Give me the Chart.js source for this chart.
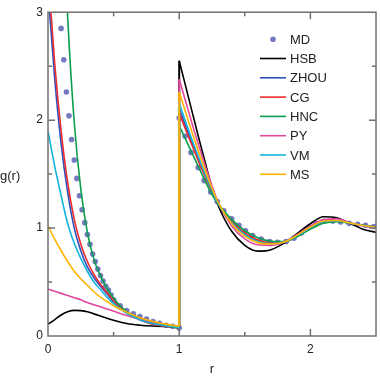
<!DOCTYPE html>
<html>
<head>
<meta charset="utf-8">
<script src="https://cdn.jsdelivr.net/npm/chart.js@4/dist/chart.umd.min.js"></script>
<style>
  html, body { margin: 0; padding: 0; background: #fff; }
</style>
</head>
<body>
<canvas id="myChart" width="380" height="376"></canvas>
<script>
// r grid: inside the core (0..1) then outside (1..2.5)
var rInner = [0, 0.05, 0.1, 0.15, 0.2, 0.25, 0.3, 0.35, 0.4, 0.45, 0.5, 0.6, 0.7, 0.8, 0.9, 1.0];
var rOuter = [1.0, 1.05, 1.1, 1.15, 1.2, 1.25, 1.3, 1.4, 1.5, 1.6, 1.7, 1.8, 1.9, 2.0, 2.1, 2.2, 2.3, 2.4, 2.5];

// g(r) for each closure: 16 inner values, then 19 outer values (first one is the contact value)
var HSB  = [0.11, 0.15, 0.195, 0.225, 0.237, 0.235, 0.225, 0.205, 0.185, 0.165, 0.145, 0.115, 0.1, 0.092, 0.088, 0.085,
            2.55, 2.31, 2.07, 1.83, 1.6, 1.37, 1.2, 0.97, 0.84, 0.786, 0.8, 0.86, 0.95, 1.04, 1.105, 1.095, 1.045, 0.99, 0.96];
var ZHOU = [3.2, 2.4, 1.78, 1.33, 1.0, 0.79, 0.64, 0.54, 0.46, 0.39, 0.32, 0.215, 0.15, 0.11, 0.09, 0.075,
            2.11, 1.94, 1.78, 1.63, 1.48, 1.34, 1.22, 1.06, 0.95, 0.885, 0.862, 0.87, 0.925, 1.0, 1.057, 1.066, 1.046, 1.025, 1.008];
var CG   = [3.39, 2.54, 1.9, 1.42, 1.08, 0.85, 0.69, 0.57, 0.48, 0.4, 0.33, 0.22, 0.15, 0.11, 0.09, 0.075,
            2.07, 1.91, 1.76, 1.61, 1.47, 1.34, 1.22, 1.06, 0.955, 0.89, 0.865, 0.87, 0.925, 1.0, 1.055, 1.065, 1.045, 1.025, 1.01];
var HNC  = [9.0, 6.2, 4.3, 2.95, 1.98, 1.36, 0.96, 0.71, 0.56, 0.44, 0.35, 0.225, 0.16, 0.12, 0.095, 0.075,
            1.95, 1.82, 1.69, 1.56, 1.43, 1.31, 1.22, 1.08, 0.975, 0.91, 0.878, 0.875, 0.92, 0.99, 1.045, 1.06, 1.045, 1.025, 1.01];
var PY   = [0.435, 0.415, 0.395, 0.375, 0.355, 0.335, 0.31, 0.29, 0.27, 0.25, 0.23, 0.19, 0.155, 0.125, 0.1, 0.085,
            2.38, 2.17, 1.96, 1.76, 1.57, 1.39, 1.23, 1.02, 0.9, 0.845, 0.84, 0.87, 0.94, 1.02, 1.08, 1.085, 1.05, 1.02, 1.0];
var VM   = [1.9, 1.58, 1.3, 1.04, 0.86, 0.72, 0.6, 0.5, 0.43, 0.36, 0.3, 0.21, 0.15, 0.115, 0.095, 0.08,
            2.16, 1.98, 1.81, 1.65, 1.49, 1.35, 1.22, 1.05, 0.94, 0.875, 0.857, 0.87, 0.93, 1.005, 1.06, 1.068, 1.047, 1.025, 1.006];
var MS   = [1.02, 0.9, 0.79, 0.69, 0.6, 0.53, 0.47, 0.41, 0.36, 0.32, 0.28, 0.22, 0.17, 0.135, 0.11, 0.09,
            2.26, 2.07, 1.88, 1.7, 1.53, 1.37, 1.23, 1.04, 0.925, 0.865, 0.852, 0.87, 0.935, 1.01, 1.065, 1.07, 1.047, 1.024, 1.005];

// MD simulation points
var mdR = [0.10, 0.12, 0.14, 0.16, 0.18, 0.20, 0.22, 0.24, 0.26, 0.28, 0.30, 0.32, 0.34, 0.36, 0.38, 0.40, 0.42, 0.44, 0.46, 0.48, 0.50,
           0.55, 0.60, 0.65, 0.70, 0.75, 0.80, 0.85, 0.90, 0.95, 1.0,
           1.0, 1.045, 1.09, 1.145, 1.19, 1.24, 1.29, 1.34, 1.40, 1.455, 1.505, 1.56, 1.625, 1.69, 1.75, 1.815, 1.875, 1.93, 1.985,
           2.045, 2.105, 2.17, 2.23, 2.295, 2.36, 2.42, 2.485];
var mdG = [2.85, 2.56, 2.26, 2.04, 1.82, 1.63, 1.46, 1.30, 1.17, 1.05, 0.94, 0.85, 0.76, 0.69, 0.62, 0.56, 0.51, 0.46, 0.425, 0.38, 0.335,
           0.28, 0.235, 0.205, 0.18, 0.157, 0.133, 0.117, 0.10, 0.09, 0.075,
           2.02, 1.85, 1.70, 1.56, 1.44, 1.335, 1.245, 1.16, 1.086, 1.025, 0.975, 0.93, 0.898, 0.876, 0.868, 0.875, 0.905, 0.955, 1.005,
           1.042, 1.063, 1.066, 1.057, 1.045, 1.035, 1.026, 1.015];

var xTickMarks = [0.5, 1, 1.5, 2];
var yTickMarks = [0.5, 1, 1.5, 2, 2.5];

var MD_COLOR = '#7579c2';
var models = [
  { label: 'HSB',  g: HSB,  color: '#000000' },
  { label: 'ZHOU', g: ZHOU, color: '#2c50c0' },
  { label: 'CG',   g: CG,   color: '#ec2b2b' },
  { label: 'HNC',  g: HNC,  color: '#0a9e4e' },
  { label: 'PY',   g: PY,   color: '#e0489e' },
  { label: 'VM',   g: VM,   color: '#12b4dc' },
  { label: 'MS',   g: MS,   color: '#ffb300' }
];

// each model: smooth inner part, straight jump at contact, smooth outer part
var datasets = [{
  label: 'MD', data: mdR.map(function (r, i) { return { x: r, y: mdG[i] }; }),
  showLine: false, pointRadius: 2.8, pointBorderWidth: 0,
  backgroundColor: MD_COLOR, borderColor: MD_COLOR, order: 20
}];
models.forEach(function (m, k) {
  var nIn = rInner.length;
  var inner = rInner.map(function (r, i) { return { x: r, y: m.g[i] }; });
  var outer = rOuter.map(function (r, i) { return { x: r, y: m.g[nIn + i] }; });
  var jump = [inner[nIn - 1], outer[0]];
  var order = 10 - k;
  [inner, jump, outer].forEach(function (d, j) {
    datasets.push({
      label: m.label, data: d, borderColor: m.color, backgroundColor: m.color,
      borderWidth: j === 1 ? 2 : 1.6, pointRadius: 0, fill: false, order: order,
      cubicInterpolationMode: j === 1 ? 'default' : 'monotone', tension: j === 1 ? 0 : 0.4
    });
  });
});

var legendPlugin = {
  id: 'frameAndLegend',
  afterDatasetsDraw: function (chart) {
    var ctx = chart.ctx, a = chart.chartArea, xs = chart.scales.x, ys = chart.scales.y;
    ctx.save();
    // frame and inward ticks on all four sides
    ctx.strokeStyle = '#707070';
    ctx.lineWidth = 1.5;
    ctx.strokeRect(a.left, a.top, a.right - a.left, a.bottom - a.top);
    ctx.beginPath();
    xTickMarks.forEach(function (v) {
      var p = xs.getPixelForValue(v), L = Number.isInteger(v) ? 7 : 4;
      ctx.moveTo(p, a.bottom); ctx.lineTo(p, a.bottom - L);
      ctx.moveTo(p, a.top); ctx.lineTo(p, a.top + L);
    });
    yTickMarks.forEach(function (v) {
      var p = ys.getPixelForValue(v), L = Number.isInteger(v) ? 7 : 4;
      ctx.moveTo(a.left, p); ctx.lineTo(a.left + L, p);
      ctx.moveTo(a.right, p); ctx.lineTo(a.right - L, p);
    });
    ctx.stroke();

    // axis titles
    ctx.fillStyle = '#222';
    ctx.font = '13px "Liberation Sans", Arial, sans-serif';
    ctx.textBaseline = 'middle';
    ctx.textAlign = 'left';
    ctx.fillText('g(r)', 0, (a.top + a.bottom) / 2 + 2);
    ctx.textAlign = 'center';
    ctx.fillText('r', (a.left + a.right) / 2, 369);

    // legend
    var x0 = a.right - 116, y0 = a.top + 27, dy = 19.3;
    ctx.textAlign = 'left';
    var items = [{ label: 'MD', color: MD_COLOR, dot: true }].concat(models);
    items.forEach(function (it, i) {
      var yy = y0 + i * dy;
      if (it.dot) {
        ctx.fillStyle = it.color;
        ctx.beginPath();
        ctx.arc(x0 + 13, yy, 2.8, 0, Math.PI * 2);
        ctx.fill();
      } else {
        ctx.strokeStyle = it.color;
        ctx.lineWidth = 1.6;
        ctx.beginPath();
        ctx.moveTo(x0, yy); ctx.lineTo(x0 + 26, yy);
        ctx.stroke();
      }
      ctx.fillStyle = '#222';
      ctx.fillText(it.label, x0 + 30, yy + 1);
    });
    ctx.restore();
  }
};

var ctx = document.getElementById('myChart').getContext('2d');
var chart = new Chart(ctx, {
  type: 'line',
  data: { datasets: datasets },
  options: {
    responsive: false,
    animation: false,
    layout: { padding: { top: 5, right: 2, left: 0, bottom: 0 } },
    plugins: { legend: { display: false }, tooltip: { enabled: false } },
    scales: {
      x: {
        type: 'linear', min: 0, max: 2.5,
        grid: { display: false, drawTicks: false },
        border: { display: false },
        ticks: { stepSize: 1, padding: 6, color: '#222', font: { family: '"Liberation Sans", Arial, sans-serif', size: 12 } },
        afterBuildTicks: function (s) { s.ticks = s.ticks.filter(function (t) { return Number.isInteger(t.value); }); },
        afterFit: function (s) { s.height = 40; }
      },
      y: {
        min: 0, max: 3,
        grid: { display: false, drawTicks: false },
        border: { display: false },
        ticks: { stepSize: 1, padding: 5, color: '#222', font: { family: '"Liberation Sans", Arial, sans-serif', size: 12 } },
        afterFit: function (s) { s.width = 48; }
      }
    }
  },
  plugins: [legendPlugin]
});
</script>
</body>
</html>
